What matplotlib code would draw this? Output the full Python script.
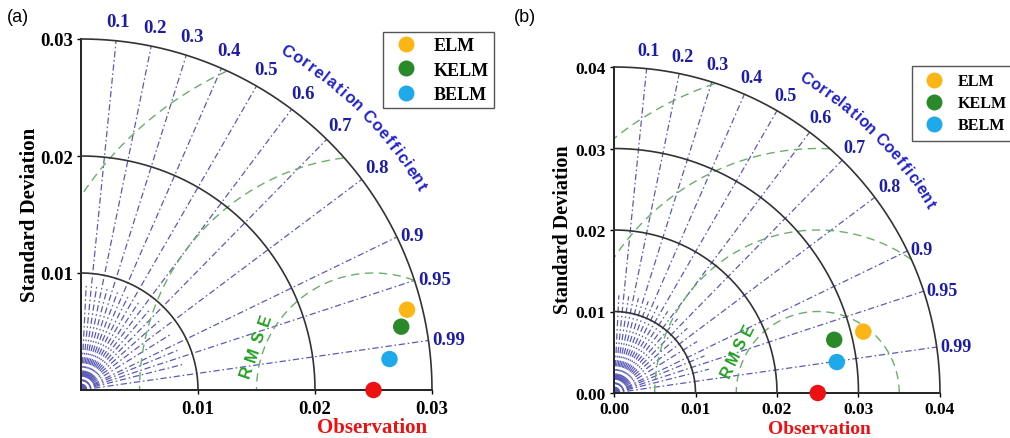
import numpy as np
import matplotlib
matplotlib.use("Agg")
import matplotlib.pyplot as plt
from matplotlib.lines import Line2D
from matplotlib.textpath import TextPath
from matplotlib.font_manager import FontProperties

# ---------------- data ----------------
models = ["ELM", "KELM", "BELM"]
model_colors = ["#FBB616", "#2A8A2A", "#1EAAEA"]
obs_color = "#EE1111"

# panel (a)
std_a = [0.0287, 0.0279, 0.0265]
corr_a = [0.971, 0.981, 0.995]
obs_std_a = 0.025
rings_a = [0.01, 0.02, 0.03]
rms_levels_a = [0.01, 0.02, 0.03]
xticks_a = [0.01, 0.02, 0.03]
xticklabels_a = ["0.01", "0.02", "0.03"]

# panel (b)
std_b = [0.0315, 0.0278, 0.0276]
corr_b = [0.971, 0.972, 0.9905]
obs_std_b = 0.025
rings_b = [0.01, 0.02, 0.03, 0.04]
rms_levels_b = [0.01, 0.02, 0.03, 0.04]
xticks_b = [0.0, 0.01, 0.02, 0.03, 0.04]
xticklabels_b = ["0.00", "0.01", "0.02", "0.03", "0.04"]

corr_ticks = [0.1, 0.2, 0.3, 0.4, 0.5, 0.6, 0.7, 0.8, 0.9, 0.95, 0.99]
corr_tick_labels = ["0.1", "0.2", "0.3", "0.4", "0.5", "0.6", "0.7", "0.8", "0.9", "0.95", "0.99"]
corr_minor = [0.05, 0.15, 0.25, 0.35, 0.45, 0.55, 0.65, 0.75, 0.85, 0.925, 0.97]

# ---------------- style ----------------
W, H = 1010, 439
SERIF = ["Liberation Serif", "DejaVu Serif"]
SANS = ["Liberation Sans", "DejaVu Sans"]
LINE_BLUE = "#5A5AB8"
LABEL_BLUE = "#1C1CA8"
TITLE_BLUE = "#2222C8"
RMS_GREEN = "#6AAE6A"
RING_COLOR = "#333333"

fig = plt.figure(figsize=(W / 100, H / 100), dpi=100)


def px_axes(left, top, right, bottom):
    return [left / W, 1 - bottom / H, (right - left) / W, (bottom - top) / H]


def draw_taylor(ax, rmax, rings, rms_levels, std, corr, obs_std, xticks, xtlabels,
                fs_tick, fs_corr, fs_title, fs_leg, rmse_pos, leg_anchor, leg_spacing,
                leg_handlelen, leg_borderpad, xpad):
    ax.set_xlim(0, rmax)
    ax.set_ylim(0, rmax)
    for s in ["top", "right"]:
        ax.spines[s].set_visible(False)
    for s in ["left", "bottom"]:
        ax.spines[s].set_linewidth(1.4)
        ax.spines[s].set_color("#222222")
    ax.set_xticks(xticks)
    ax.set_xticklabels(xtlabels)
    ax.set_yticks(xticks)
    ax.set_yticklabels(xtlabels)
    ax.tick_params(length=3, width=1, direction="out", pad=3)
    ax.tick_params(axis="x", pad=xpad)
    for lab in ax.get_xticklabels() + ax.get_yticklabels():
        lab.set_fontfamily(SERIF)
        lab.set_fontweight("bold")
        lab.set_fontsize(fs_tick)
    ax.set_facecolor("none")

    # correlation rays
    dash = (0, (5, 2.2, 1.3, 2.2))
    for c in corr_ticks:
        th = np.arccos(c)
        ax.plot([0, rmax * np.cos(th)], [0, rmax * np.sin(th)], color=LINE_BLUE,
                lw=0.9, ls=dash, zorder=2)
    for c in corr_minor:
        th = np.arccos(c)
        r2 = 0.3 * rmax
        ax.plot([0, r2 * np.cos(th)], [0, r2 * np.sin(th)], color=LINE_BLUE,
                lw=0.9, ls=dash, zorder=2)

    # std rings
    t = np.linspace(0, np.pi / 2, 300)
    for r in rings:
        ax.plot(r * np.cos(t), r * np.sin(t), color=RING_COLOR, lw=1.2, zorder=3,
                clip_on=False)

    # RMS contours
    tt = np.linspace(0, np.pi, 600)
    for R in rms_levels:
        x = obs_std + R * np.cos(tt)
        y = R * np.sin(tt)
        ok = (x ** 2 + y ** 2 <= rmax ** 2) & (x >= 0)
        x = np.where(ok, x, np.nan)
        y = np.where(ok, y, np.nan)
        ax.plot(x, y, color=RMS_GREEN, lw=1.0, ls=(0, (6, 4)), zorder=2)

    # correlation tick labels
    for c, lab in zip(corr_ticks, corr_tick_labels):
        th = np.arccos(c)
        if c >= 0.9:
            rr = 1.01 * rmax
            ax.text(rr * np.cos(th), rr * np.sin(th), lab, ha="left", va="center",
                    color=LABEL_BLUE, fontsize=fs_corr, fontweight="bold",
                    family=SERIF, clip_on=False)
        else:
            rr = 1.055 * rmax
            ax.text(rr * np.cos(th), rr * np.sin(th), lab, ha="center", va="center",
                    color=LABEL_BLUE, fontsize=fs_corr, fontweight="bold",
                    family=SERIF, clip_on=False)

    # curved "Correlation Coefficient"
    title = "Correlation Coefficient"
    fp = FontProperties(family=SANS, size=fs_title, weight="bold")
    adv = []
    for ch in title:
        if ch == " ":
            adv.append(0.35 * fs_title)
        else:
            adv.append(TextPath((0, 0), ch, prop=fp).get_extents().width + 0.25 * fs_title)
    adv = np.array(adv)
    cum = np.cumsum(adv) - adv / 2
    a0, a1 = np.radians(59.6), np.radians(30.4)
    frac = cum / adv.sum()
    rr = 1.13 * rmax
    for ch, f in zip(title, frac):
        a = a0 + (a1 - a0) * f
        ax.text(rr * np.cos(a), rr * np.sin(a), ch, ha="center", va="center",
                rotation=np.degrees(a) - 90, rotation_mode="anchor",
                color=TITLE_BLUE, fontsize=fs_title, fontweight="bold", family=SANS,
                clip_on=False)

    # RMSE label
    (xr, yr), (xe, ye) = rmse_pos
    ang = np.degrees(np.arctan2(ye - yr, xe - xr))
    for i, ch in enumerate("RMSE"):
        f = i / 3
        ax.text(xr + (xe - xr) * f, yr + (ye - yr) * f, ch, ha="center", va="center",
                rotation=ang, rotation_mode="anchor", color="#22A022",
                fontsize=fs_title, fontweight="bold", family=SANS, clip_on=False)

    # models
    std = np.asarray(std)
    corr = np.asarray(corr)
    xs = std * corr
    ys = std * np.sqrt(1 - corr ** 2)
    handles = []
    for xi, yi, col, name in zip(xs, ys, model_colors, models):
        ax.scatter([xi], [yi], s=140, color=col, edgecolors="none", zorder=6, clip_on=False)
        handles.append(Line2D([], [], marker="o", ls="", ms=11.5, color=col,
                              markeredgewidth=0, label=name))
    ax.scatter([obs_std], [0], s=140, color=obs_color, edgecolors="none", zorder=7,
               clip_on=False)

    leg = ax.legend(handles=handles, loc="upper left", bbox_to_anchor=leg_anchor,
                    bbox_transform=fig.transFigure, frameon=True, fancybox=False,
                    framealpha=1, edgecolor="#555555", borderpad=leg_borderpad,
                    labelspacing=leg_spacing, handletextpad=0.5,
                    handlelength=leg_handlelen, borderaxespad=0,
                    prop=FontProperties(family=SERIF, weight="bold", size=fs_leg))
    leg.get_frame().set_linewidth(1.0)


def pix_to_data(px, py, ox, oy, scale):
    return ((px - ox) / scale, (oy - py) / scale)


# panel (a)
ax_a = fig.add_axes(px_axes(81, 40, 432, 391))
sa = 351 / 0.03
draw_taylor(ax_a, 0.03, rings_a, rms_levels_a, std_a, corr_a, obs_std_a,
            xticks_a, xticklabels_a, fs_tick=13.5, fs_corr=13.5, fs_title=12, fs_leg=13,
            rmse_pos=(pix_to_data(247, 372, 81, 391, sa), pix_to_data(265, 320, 81, 391, sa)),
            leg_anchor=(383 / W, 1 - 33 / H), leg_spacing=0.4, leg_handlelen=2.0,
            leg_borderpad=0.3, xpad=4.0)

# panel (b)
ax_b = fig.add_axes(px_axes(614, 68, 940, 394))
sb = 326 / 0.04
draw_taylor(ax_b, 0.04, rings_b, rms_levels_b, std_b, corr_b, obs_std_b,
            xticks_b, xticklabels_b, fs_tick=12.5, fs_corr=13, fs_title=11.5, fs_leg=11.5,
            rmse_pos=(pix_to_data(727, 372, 614, 394, sb), pix_to_data(748, 330, 614, 394, sb)),
            leg_anchor=(912 / W, 1 - 67 / H), leg_spacing=0.38, leg_handlelen=1.9,
            leg_borderpad=0.45, xpad=2.5)

# axis titles
fig.text(30 / W, 1 - 215 / H, "Standard Deviation", rotation=90, ha="center", va="center",
         fontsize=15, fontweight="bold", family=SERIF)
fig.text(563 / W, 1 - 230 / H, "Standard Deviation", rotation=90, ha="center", va="center",
         fontsize=14.5, fontweight="bold", family=SERIF)
fig.text(372 / W, 1 - 428 / H, "Observation", ha="center", va="center", color=obs_color,
         fontsize=15, fontweight="bold", family=SERIF)
fig.text(819 / W, 1 - 429.5 / H, "Observation", ha="center", va="center", color=obs_color,
         fontsize=14, fontweight="bold", family=SERIF)

fig.text(18 / W, 1 - 18 / H, "(a)", ha="center", va="center", fontsize=13, family=SANS)
fig.text(525 / W, 1 - 18 / H, "(b)", ha="center", va="center", fontsize=13, family=SANS)

fig.savefig("out.png", dpi=100)
